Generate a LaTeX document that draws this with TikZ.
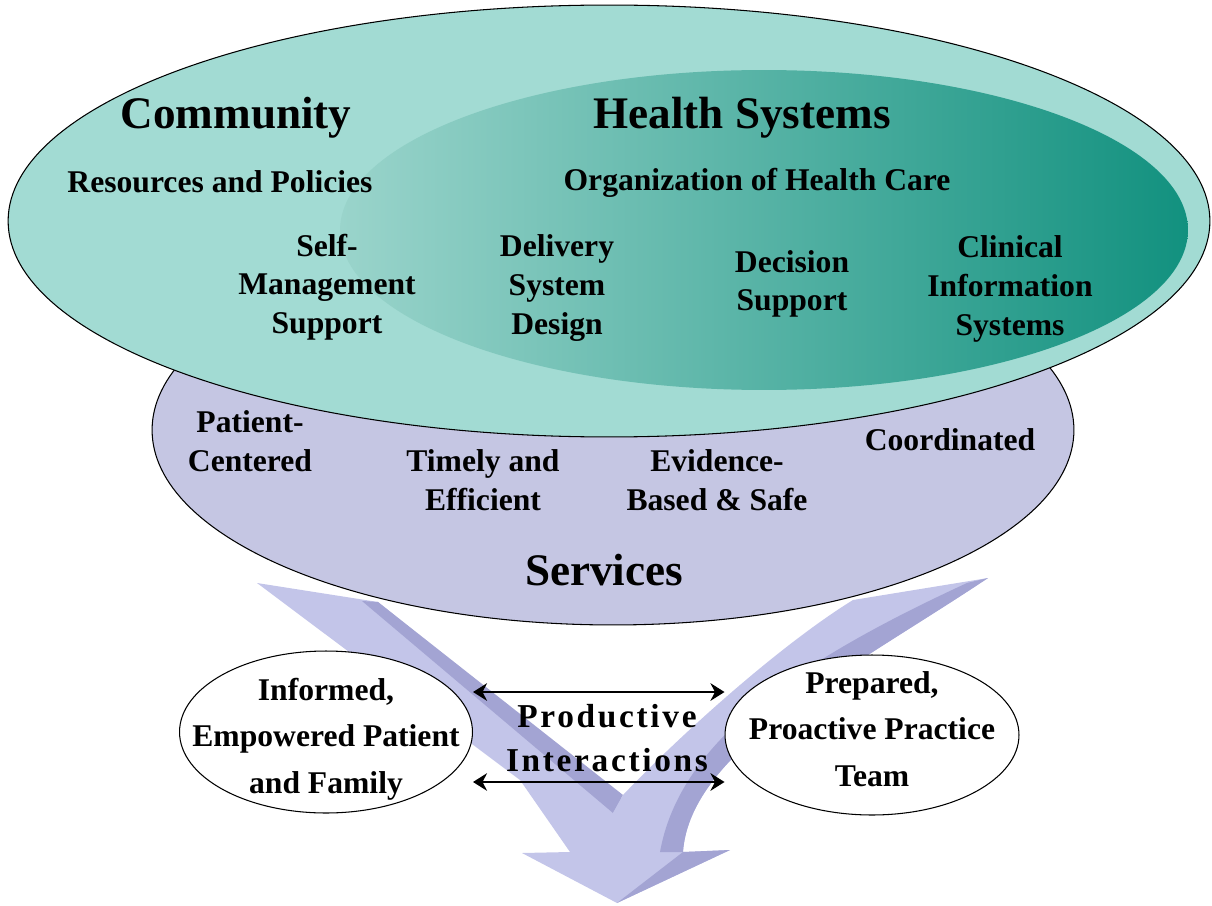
\documentclass[tikz,border=0pt]{standalone}
\usepackage{fontspec}
\setmainfont{Liberation Serif}
\usetikzlibrary{shapes.geometric,arrows.meta}

\definecolor{tealout}{HTML}{A2DBD3}
\definecolor{tealin}{HTML}{9AD4CB}
\definecolor{tealdark}{HTML}{12917F}
\definecolor{lavender}{HTML}{C5C6E3}
\definecolor{arrowlight}{HTML}{C3C5E9}
\definecolor{arrowdark}{HTML}{A3A4D3}

\begin{document}
\begin{tikzpicture}[
		x=0.02cm, y=-0.02cm,
		oval/.style={ellipse, draw=black, line width=0.6pt, inner sep=0pt},
		txt/.style={align=center, inner sep=0pt, font=\fontsize{18}{22}\selectfont\bfseries},
		head/.style={inner sep=0pt, font=\fontsize{25.7}{30}\selectfont\bfseries},
		pairtxt/.style={align=center, inner sep=0pt, font=\fontsize{18}{26.5}\selectfont\bfseries},
		biarrow/.style={{Stealth[length=8pt,width=10pt]}-{Stealth[length=8pt,width=10pt]}, line width=1.6pt}
		]
		\useasboundingbox (0,0) rectangle (1212,905);
		% the big arrow
		\fill[arrowlight] (257,583) -- (378,602) -- (660,830) -- (683,852) -- (730,850) -- (617,903) -- (522,853) -- (570,852) -- (520,780) -- cycle;
		\fill[arrowdark] (362,601) -- (378,602) -- (623,795) -- (613,813) -- cycle;
		\fill[arrowlight] (853,600) -- (988,578) .. controls (850,670) and (690,750) .. (683,852) -- (600,852) -- (613,813) -- (623,795) .. controls (680,735) and (780,645) .. (853,600) -- cycle;
		\fill[arrowdark] (988,578) .. controls (850,670) and (690,750) .. (683,852) -- (660,852) .. controls (680,740) and (800,660) .. (967,583) -- cycle;
		\fill[arrowdark] (683,852) -- (730,850) -- (617,903) -- cycle;
		% ovals
		\node[oval, fill=lavender, minimum width=18.44cm, minimum height=7.8cm] (services) at (613,430) {};
		\node[oval, fill=tealout, minimum width=24.04cm, minimum height=8.64cm] (community) at (609,221) {};
		\node[ellipse, inner sep=0pt, left color=tealin, right color=tealdark, minimum width=16.96cm, minimum height=6.4cm] (healthsys) at (764,230) {};
		% texts
		\node[head] (commtitle) at (236,118) {Community};
		\node[head] (hstitle) at (742,118) {Health Systems};
		\node[txt] (resources) at (220,182) {Resources and Policies};
		\node[txt] (organization) at (757,183) {Organization of Health Care};
		\node[txt] (selfmgmt) at (327,287) {Self-\\Management\\Support};
		\node[txt] (delivery) at (557,288) {Delivery\\System\\Design};
		\node[txt] (decision) at (792,284) {Decision\\Support};
		\node[txt] (clinical) at (1010,289) {Clinical\\Information\\Systems};
		\node[txt] (centered) at (250,441) {Patient-\\Centered};
		\node[txt] (timely) at (483,480) {Timely and\\Efficient};
		\node[txt] (evidence) at (717,480) {Evidence-\\Based \& Safe};
		\node[txt] (coordinated) at (950,440) {Coordinated};
		\node[head] (servtitle) at (604,570) {Services};
		% patient and team
		\node[oval, fill=white, minimum width=5.86cm, minimum height=3.24cm] (patient) at (326,732) {};
		\node[oval, fill=white, minimum width=5.88cm, minimum height=3.2cm] (team) at (872,735) {};
		\node[pairtxt] (patienttxt) at (326,739) {Informed,\\Empowered Patient\\and Family};
		\node[pairtxt] (teamtxt) at (872,729) {Prepared,\\Proactive Practice\\Team};
		\coordinate (upper) at ([yshift=0.8cm]patient.east);
		\coordinate (lower) at ([yshift=-1.0cm]patient.east);
		\draw[biarrow] (upper) -- (upper -| team.west);
		\draw[biarrow] (lower) -- (lower -| team.west);
		\node[align=center, inner sep=0pt, font=\fontsize{19}{25}\selectfont\bfseries\addfontfeature{LetterSpace=8}] (prodtxt) at (607,738) {Productive\\Interactions};
\end{tikzpicture}
\end{document}
